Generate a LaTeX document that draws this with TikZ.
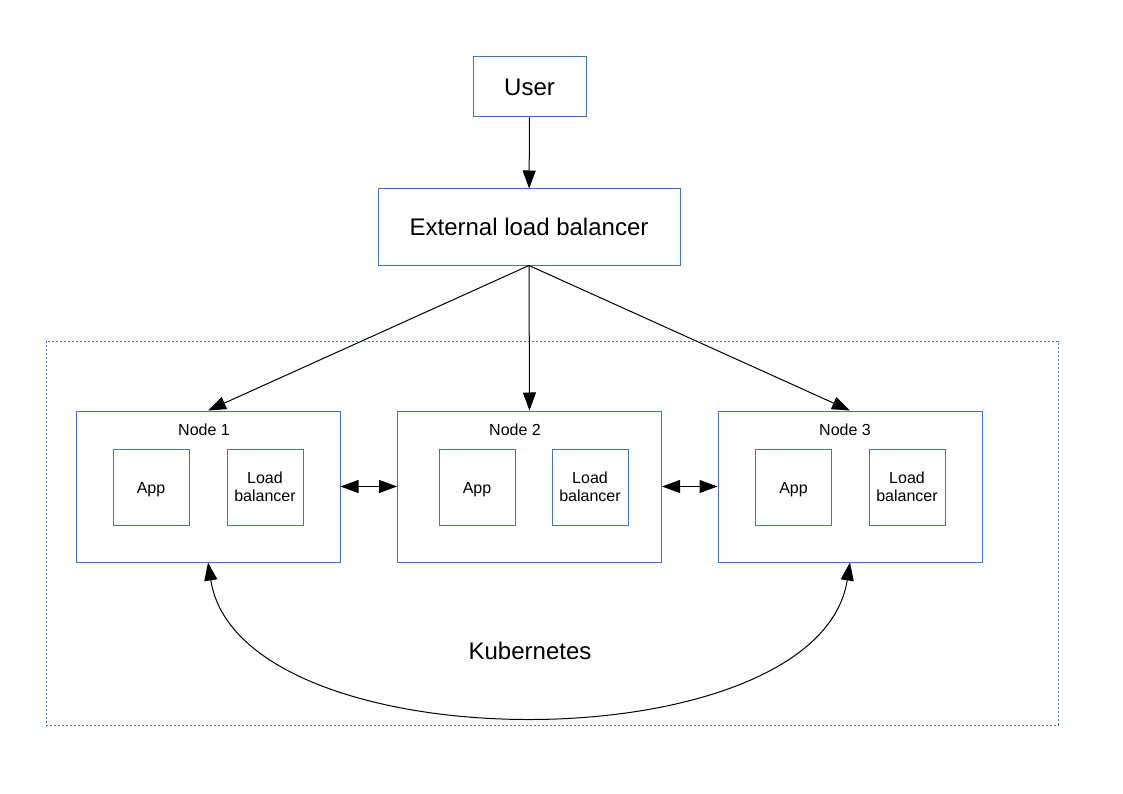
\documentclass[tikz,border=0pt]{standalone}
\usepackage{fontspec}
\setmainfont{Liberation Sans}
\usetikzlibrary{arrows.meta,positioning}

\definecolor{boxblue}{HTML}{4672B4}

\begin{document}
\begin{tikzpicture}[x=1pt,y=-1pt,
    box/.style={draw=boxblue,line width=1pt,inner sep=0pt,align=center},
    big/.style={font=\fontsize{24}{28}\selectfont},
    small/.style={font=\fontsize{16}{18}\selectfont},
    arr/.style={line width=1pt,-{Triangle[length=18pt,width=13pt]}},
    darr/.style={line width=1pt,{Triangle[length=18pt,width=13pt]}-{Triangle[length=18pt,width=13pt]}}]

  \useasboundingbox (0,0) rectangle (1123,794);

  % cluster frame
  \draw[boxblue,line width=1pt,dash pattern=on 2pt off 2pt] (46,341) rectangle (1058,725);
  \node[big] (k8s) at (530,651) {Kubernetes};

  \node[box,big,minimum width=113pt,minimum height=60pt] (user) at (529.5,87) {User};
  \node[box,big,minimum width=302pt,minimum height=76pt] (elb) at (529,227) {External load balancer};

  \node[box,minimum width=264pt,minimum height=151pt] (n1) at (208,486.5) {};
  \node[box,minimum width=264pt,minimum height=151pt] (n2) at (529.5,486.5) {};
  \node[box,minimum width=264pt,minimum height=151pt] (n3) at (850,486.5) {};

  \node[small] (t1) at (204,430) {Node 1};
  \node[small] (t2) at (515,430) {Node 2};
  \node[small] (t3) at (845,430) {Node 3};

  \node[box,small,minimum size=76pt] (a1) at (151,487) {\raisebox{-3pt}[\height][\depth]{App}};
  \node[box,small,minimum size=76pt] (l1) at (265,487) {Load\\balancer};
  \node[box,small,minimum size=76pt] (a2) at (477,487) {\raisebox{-3pt}[\height][\depth]{App}};
  \node[box,small,minimum size=76pt] (l2) at (590,487) {Load\\balancer};
  \node[box,small,minimum size=76pt] (a3) at (793.5,487) {\raisebox{-3pt}[\height][\depth]{App}};
  \node[box,small,minimum size=76pt] (l3) at (907,487) {Load\\balancer};

  \draw[arr] (user) -- (elb);
  \draw[arr] (elb.south) -- (n1.north);
  \draw[arr] (elb.south) -- (n2.north);
  \draw[arr] (elb.south) -- (n3.north);

  \draw[darr] (n1) -- (n2);
  \draw[darr] (n2) -- (n3);
  \draw[darr] (n1.south) .. controls (240,766) and (818,766) .. (n3.south);

\end{tikzpicture}
\end{document}
